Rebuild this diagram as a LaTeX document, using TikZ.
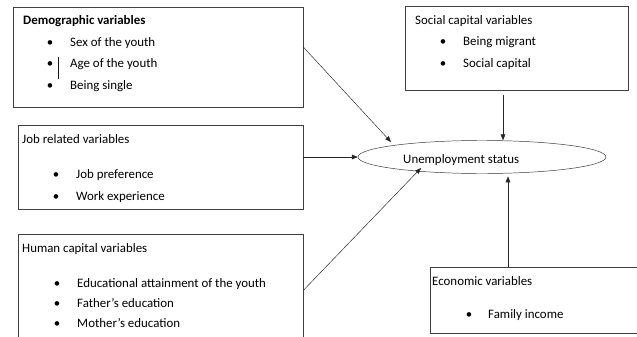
\documentclass[tikz,border=0pt]{standalone}
\usepackage{fontspec}
\setmainfont{Carlito}
\usepackage{tikz}
\usetikzlibrary{shapes.geometric,arrows.meta}

\begin{document}
\begin{tikzpicture}[x=0.03cm, y=-0.03cm,
    font=\fontsize{11}{13}\selectfont,
    box/.style={shape=rectangle, draw=black!75, anchor=north west, inner sep=0pt},
    head/.style={anchor=base west, inner sep=0pt},
    item/.style={anchor=base west, inner sep=0pt},
    dotmark/.style={anchor=base, inner sep=0pt},
    link/.style={-{Triangle[length=5pt,width=4pt]}, black!85}]
    \useasboundingbox (0,0) rectangle (637,337);

    % variable groups
    \node[box, minimum width=8.7cm, minimum height=3cm] (demo) at (13,7) {};
    \node[box, minimum width=6.69cm, minimum height=2.52cm] (social) at (405,6) {};
    \node[box, minimum width=8.55cm, minimum height=2.52cm] (job) at (18,125) {};
    \node[box, minimum width=8.55cm, minimum height=3.36cm] (human) at (18,234) {};
    \node[box, minimum width=6.3cm, minimum height=1.98cm] (econ) at (430,267) {};

    % outcome
    \node[shape=ellipse, draw=black!80, minimum width=7.44cm, minimum height=0.99cm, inner sep=0pt] (status) at (482,157) {};
    \node[head] (statustext) at (403,163) {Unemployment status};

    % box contents
    \node[head] (demohead) at (23,25) {\bfseries Demographic variables};
    \foreach \y/\t [count=\i] in {46/Sex of the youth, 67/Age of the youth, 89/Being single} {
        \node[dotmark] (demodot\i) at (50,\y) {•};
        \node[item] (demoitem\i) at (70,\y) {\t};
    }
    \draw[black!90] (58,57) -- (58,79);

    \node[head] (socialhead) at (415,25) {Social capital variables};
    \foreach \y/\t [count=\i] in {45/Being migrant, 67/Social capital} {
        \node[dotmark] (socialdot\i) at (443,\y) {•};
        \node[item] (socialitem\i) at (463,\y) {\t};
    }

    \node[head] (jobhead) at (22,143) {Job related variables};
    \foreach \y/\t [count=\i] in {178/Job preference, 200/Work experience} {
        \node[dotmark] (jobdot\i) at (56,\y) {•};
        \node[item] (jobitem\i) at (76,\y) {\t};
    }

    \node[head] (humanhead) at (22,252) {Human capital variables};
    \foreach \y/\t [count=\i] in {287/Educational attainment of the youth, 307/Father’s education, 327/Mother’s education} {
        \node[dotmark] (humandot\i) at (57,\y) {•};
        \node[item] (humanitem\i) at (77,\y) {\t};
    }

    \node[head] (econhead) at (432,285) {Economic variables};
    \node[dotmark] (econdot1) at (469,318) {•};
    \node[item] (econitem1) at (488,318) {Family income};

    % arrows into the outcome
    \coordinate (demotip) at (391,142);
    \coordinate (socialfoot) at (503,95);
    \coordinate (humantip) at (421,168);
    \coordinate (econtop) at (508,267);
    \draw[link] ([yshift=0.3cm]demo.east) -- (demotip);
    \draw[link] (socialfoot) -- (socialfoot |- status.north);
    \draw[link] (job.east |- status.west) -- (status.west);
    \draw[link] (human.east) -- (humantip);
    \draw[link, shorten >=0.08cm] (econtop) -- (econtop |- status.south);
\end{tikzpicture}
\end{document}
